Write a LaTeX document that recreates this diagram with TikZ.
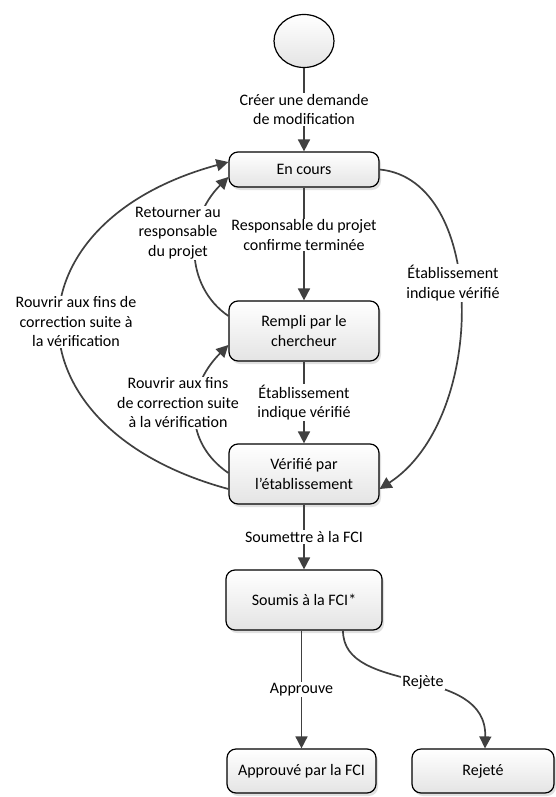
\documentclass[tikz,border=0pt]{standalone}
\usepackage{fontspec}
\setmainfont{Carlito}
\usetikzlibrary{arrows.meta,shapes.geometric,shadows}

\definecolor{linegray}{HTML}{404040}
\definecolor{boxgray}{HTML}{E4E4E4}

\begin{document}
\begin{tikzpicture}[
		x=1pt, y=-1pt,
		every node/.style={font=\fontsize{16}{19.5}\selectfont},
		state/.style={
			draw, line width=1.2pt, rounded corners=9pt,
			top color=white, bottom color=boxgray,
			drop shadow={shadow xshift=2pt, shadow yshift=-3pt, fill=black!20, opacity=.6},
			minimum width=150pt, minimum height=60pt,
			align=center,
		},
		arrow/.style={-{Triangle[length=12pt,width=12pt]}, line width=1.7pt, draw=linegray},
		lbl/.style={fill=white, inner sep=1pt, align=center},
		]
		
		\useasboundingbox (0,0) rectangle (555,797);
		
		\node[ellipse, draw, line width=1.2pt, top color=white, bottom color=boxgray,
		minimum width=60pt, minimum height=53pt] (start) at (304,41) {};
		\node[state, minimum height=35pt]             (encours)  at (304,169.5) {En cours};
		\node[state]                                  (rempli)   at (304,331)   {Rempli par le\\chercheur};
		\node[state]                                  (verifie)  at (304,474)   {Vérifié par\\l’établissement};
		\node[state, minimum width=156pt]             (soumis)   at (304,600)   {Soumis à la FCI*};
		\node[state, minimum width=149pt, minimum height=44pt] (approuve) at (301.5,771) {Approuvé par la FCI};
		\node[state, minimum width=142pt, minimum height=44pt] (rejete)   at (483,771)   {Rejeté};
		
		\draw[arrow] (start) -- node[lbl]{Créer une demande\\de modification} (encours);
		\draw[arrow] (encours) -- node[lbl, pos=.42]{Responsable du projet\\confirme terminée} (rempli);
		\draw[arrow] (rempli) -- node[lbl]{Établissement\\indique vérifié} (verifie);
		\draw[arrow] (verifie) -- node[lbl]{Soumettre à la FCI} (soumis);
		\draw[arrow] (approuve.north |- soumis.south) -- node[lbl]{Approuve} (approuve);
		\draw[arrow] ([xshift=39pt]soumis.south) .. controls +(0,65) and +(2,-85) .. ([xshift=2pt]rejete.north);
		
		% retours et raccourci
		\draw[arrow] ([yshift=-15pt]verifie.west) .. controls +(-225,-61) and +(-225,61) .. ([yshift=7.5pt]encours.west);
		\draw[arrow] ([yshift=15pt]rempli.west) .. controls +(-44,-30) and +(-44,44) .. ([yshift=-7.5pt]encours.west);
		\draw[arrow] ([yshift=1pt]verifie.west) .. controls +(-44,-30) and +(-44,44) .. ([yshift=-14pt]rempli.west);
		\draw[arrow] (encours.east) .. controls +(108,10) and +(108,-70) .. ([yshift=-15pt]verifie.east);
		
		\node[lbl] (rouvrirA)  at (76,322)  {Rouvrir aux fins de\\correction suite à\\la vérification};
		\node[lbl] (retourner) at (178,233) {Retourner au\\responsable\\du projet};
		\node[lbl] (rouvrirB)  at (178,403) {Rouvrir aux fins\\de correction suite\\à la vérification};
		\node[lbl] (etabA)     at (453,283) {Établissement\\indique vérifié};
		\node[lbl] (rejette)   at (423,682) {Rejète};
		
	\end{tikzpicture}
\end{document}
